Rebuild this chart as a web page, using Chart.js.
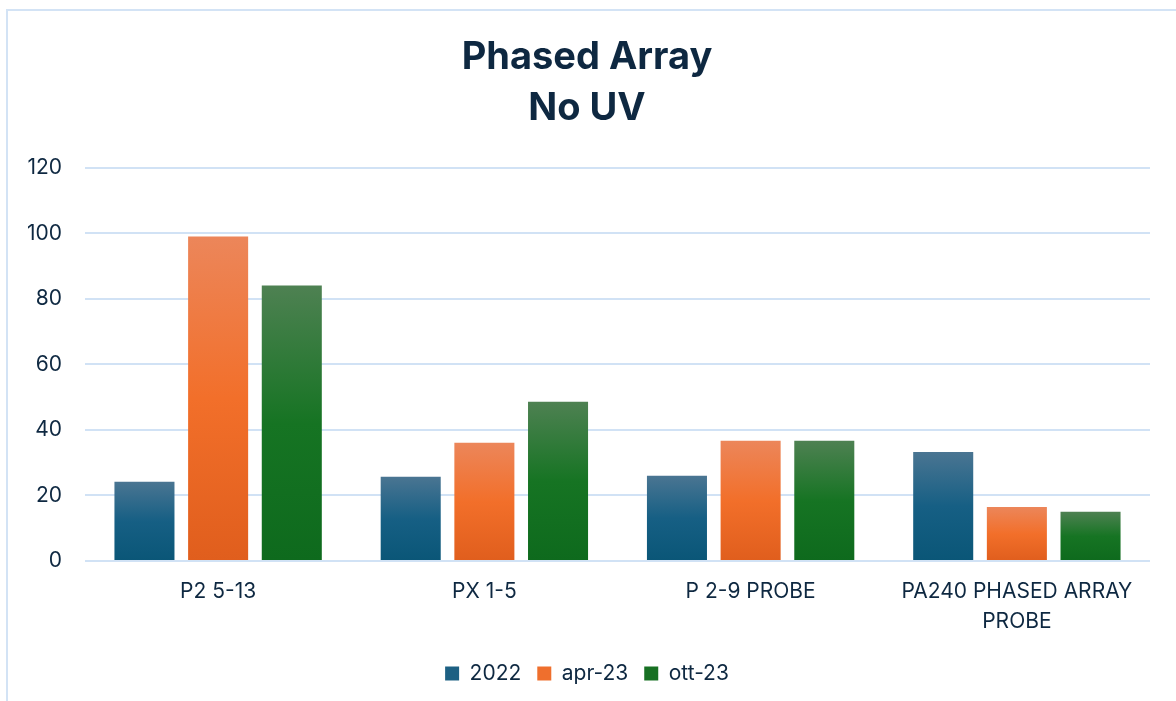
<!DOCTYPE html>
<html>
<head>
<meta charset="utf-8">
<script src="https://cdn.jsdelivr.net/npm/chart.js@4.4.1/dist/chart.umd.min.js"></script>
<style>
  html, body { margin: 0; padding: 0; background: #fff; }
  #wrap { position: relative; width: 1176px; height: 701px; overflow: hidden; }
  #frame { position: absolute; left: 6px; top: 9px; width: 1300px; height: 800px;
           border-left: 2px solid #d3e3f5; border-top: 2px solid #d3e3f5; }
  canvas { position: absolute; left: 0; top: 0; }
</style>
</head>
<body>
<div id="wrap">
  <div id="frame"></div>
  <canvas id="chart" width="1176" height="701"></canvas>
</div>
<script>
const categories = ["P2 5-13", "PX 1-5", "P 2-9 PROBE", ["PA240 PHASED ARRAY", "PROBE"]];
const seriesNames = ["2022", "apr-23", "ott-23"];
const values2022 = [24.2, 25.7, 26.0, 33.3];
const valuesApr23 = [99.1, 36.1, 36.7, 16.5];
const valuesOtt23 = [84.1, 48.6, 36.7, 15.0];
const yTicks = [0, 20, 40, 60, 80, 100, 120];

const textColor = "#0e2841";
const gridColor = "#d1e2f5";

// top, middle, bottom colours of each bar gradient
const palettes = [
  ["#4a7592", "#165f84", "#0a5677"],
  ["#ec865a", "#f26f2a", "#e05e1d"],
  ["#4e8152", "#167423", "#0e6a1d"]
];
const legendColors = ["#1d6083", "#ef6f2d", "#177023"];

function barGradient(p) {
  return function (ctx) {
    const chart = ctx.chart;
    const y = chart.scales && chart.scales.y;
    if (!y || ctx.raw == null || !chart.chartArea) return p[1];
    const top = y.getPixelForValue(ctx.raw);
    const bottom = y.getPixelForValue(0);
    if (!isFinite(top) || !isFinite(bottom) || top === bottom) return p[1];
    const g = chart.ctx.createLinearGradient(0, top, 0, bottom);
    g.addColorStop(0, p[0]);
    g.addColorStop(0.5, p[1]);
    g.addColorStop(1, p[2]);
    return g;
  };
}

const allValues = [values2022, valuesApr23, valuesOtt23];

new Chart(document.getElementById("chart"), {
  type: "bar",
  data: {
    labels: categories,
    datasets: seriesNames.map((name, i) => ({
      label: name,
      data: allValues[i],
      backgroundColor: barGradient(palettes[i]),
      borderWidth: 0,
      categoryPercentage: 0.83,
      barPercentage: 0.815
    }))
  },
  options: {
    responsive: false,
    animation: false,
    layout: { padding: { left: 24, right: 26, top: 32, bottom: 7 } },
    plugins: {
      title: {
        display: true,
        text: ["Phased Array", "No UV"],
        color: textColor,
        font: { family: "Inter", size: 38, weight: "bold", lineHeight: 1.342 },
        padding: { top: 0, bottom: 34 }
      },
      legend: {
        position: "bottom",
        labels: {
          color: textColor,
          font: { family: "Inter", size: 21 },
          boxWidth: 14,
          boxHeight: 14,
          padding: 16,
          generateLabels: (chart) => seriesNames.map((name, i) => ({
            text: name,
            fillStyle: legendColors[i],
            strokeStyle: legendColors[i],
            lineWidth: 0,
            fontColor: textColor,
            datasetIndex: i
          }))
        }
      },
      tooltip: { enabled: false }
    },
    scales: {
      x: {
        grid: { display: false, drawTicks: false },
        border: { display: false },
        afterFit: (scale) => { scale.height = 86; },
        ticks: {
          color: textColor,
          font: { family: "Inter", size: 21, lineHeight: 1.43 },
          padding: 16,
          maxRotation: 0,
          autoSkip: false
        }
      },
      y: {
        min: 0,
        max: 120,
        afterBuildTicks: (scale) => { scale.ticks = yTicks.map(v => ({ value: v })); },
        afterFit: (scale) => { scale.width = 61; },
        grid: { color: gridColor, lineWidth: 2, drawTicks: false },
        border: { display: false },
        ticks: {
          color: textColor,
          font: { family: "Inter", size: 21 },
          padding: 23
        }
      }
    }
  }
});
</script>
</body>
</html>
